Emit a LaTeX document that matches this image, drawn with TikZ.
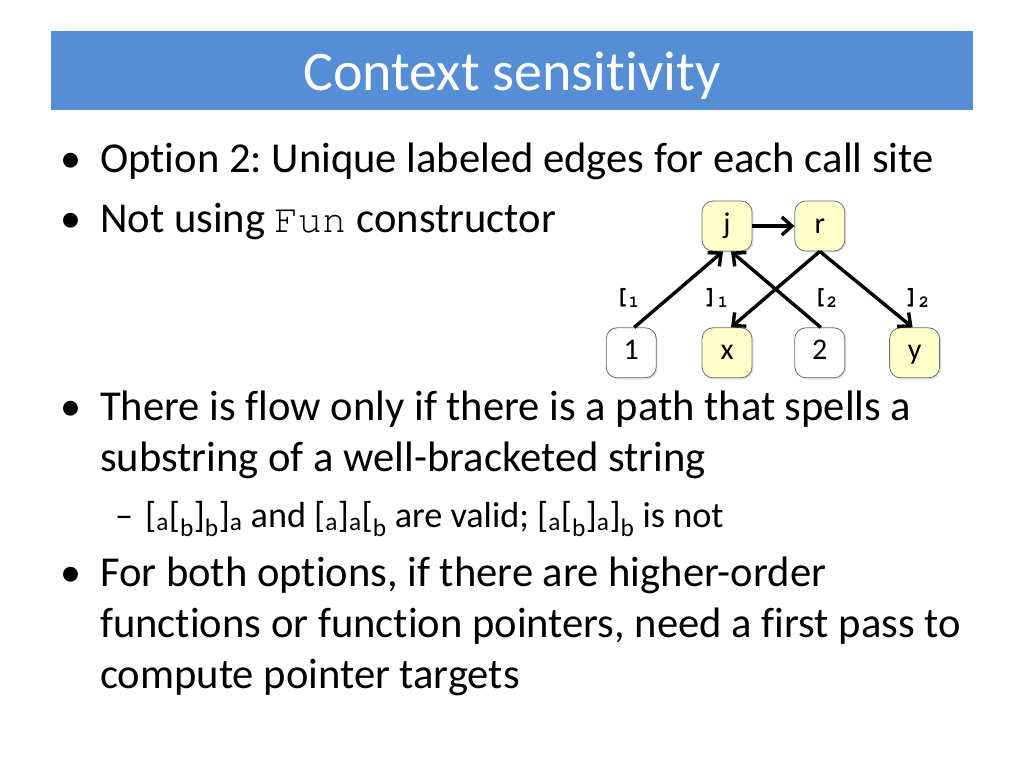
\documentclass[tikz,border=0pt]{standalone}
\usepackage{fontspec}
\setmainfont{Carlito}[Ligatures={NoCommon}]
\newfontfamily\codefont{texgyrecursor-regular.otf}
\newfontfamily\labfont{texgyrecursor-bold.otf}
\usetikzlibrary{positioning,arrows.meta,shadows}
\definecolor{titleblue}{RGB}{85,142,213}
\definecolor{factyellow}{RGB}{255,255,204}
\definecolor{boxgray}{RGB}{110,110,110}
\frenchspacing

\begin{document}
\begin{tikzpicture}[x=1pt,y=-1pt,
   fact/.style={draw=boxgray, line width=0.8pt, rounded corners=11pt, fill=factyellow,
      minimum width=50pt, minimum height=50pt, inner sep=0pt, text height=20pt, text depth=6pt,
      drop shadow={shadow xshift=1.5pt, shadow yshift=-1.5pt, opacity=0.25},
      font=\fontsize{30}{34}\selectfont},
   site/.style={fact, fill=white},
   flow/.style={line width=3.4pt, -{Straight Barb[length=10pt,width=18pt]}},
   lbl/.style={inner sep=0pt, font=\labfont\fontsize{24}{28}\selectfont},
   body/.style={anchor=base west, inner sep=0pt, font=\fontsize{42.6}{51}\selectfont},
   small/.style={anchor=base west, inner sep=0pt, font=\fontsize{36.2}{44}\selectfont},
   dot/.style={anchor=base, inner sep=0pt, font=\fontsize{42}{51}\selectfont},
   node distance=42pt]
   \useasboundingbox[fill=white] (0,0) rectangle (1024,768);

   % title bar
   \fill[titleblue] (51,31) rectangle (973,110);
   \node[anchor=base, inner sep=0pt, text=white, font=\fontsize{56}{60}\selectfont] (title) at (512,90) {Context sensitivity};

   % bullets
   \node[dot]   (b1)    at (71,172) {•};
   \node[body]  (opt)   at (100,172) {Option 2: Unique labeled edges for each call site};
   \node[dot]   (b2)    at (71,232) {•};
   \node[body]  (nofun) at (100,232) {Not using {\codefont\fontsize{40}{48}\selectfont Fun} constructor};
   \node[dot]   (b3)    at (71,420) {•};
   \node[body]  (flowa) at (100,420) {There is flow only if there is a path that spells a};
   \node[body]  (flowb) at (100,471) {substring of a well-bracketed string};
   \node[small] (dash)  at (115,527) {–};
   \node[small] (valid) at (145,527) {[\textsubscript{a}[\textsubscript{b}]\textsubscript{b}]\textsubscript{a} and [\textsubscript{a}]\textsubscript{a}[\textsubscript{b} are valid; [\textsubscript{a}[\textsubscript{b}]\textsubscript{a}]\textsubscript{b} is not};
   \node[dot]   (b4)    at (71,586) {•};
   \node[body]  (botha) at (100,586) {For both options, if there are higher-order};
   \node[body]  (bothb) at (100,637) {functions or function pointers, need a first pass to};
   \node[body]  (bothc) at (100,688) {compute pointer targets};

   % call graph
   \node[fact]                      (j)  at (727,226) {j} ; %
   \node[fact, right=of j]          (r)  {r} ; %
   \node[fact, below=76pt of j]     (x)  {x} ; %
   \node[site, left=45pt of x]      (n1) {1} ; %
   \node[site, below=76pt of r]     (n2) {2} ; %
   \node[fact, right=44pt of n2]    (y)  {y} ; %

   \draw[flow] (j) -- (r) ;
   \draw[flow] ([xshift=3pt]n1.north) -- ([xshift=-4pt]j.south) ;
   \draw[flow] ([xshift=1pt]n2.north) -- ([xshift=4pt]j.south) ;
   \draw[flow] (r.south) -- ([xshift=4pt]x.north) ;
   \draw[flow] (r.south) -- ([xshift=-2pt]y.north) ;

   \node[lbl] (open1)  at (627,298) {[\textsubscript{1}} ;
   \node[lbl] (close1) at (716,298) {]\textsubscript{1}} ;
   \node[lbl] (open2)  at (825,298) {[\textsubscript{2}} ;
   \node[lbl] (close2) at (917,298) {]\textsubscript{2}} ;
\end{tikzpicture}
\end{document}
